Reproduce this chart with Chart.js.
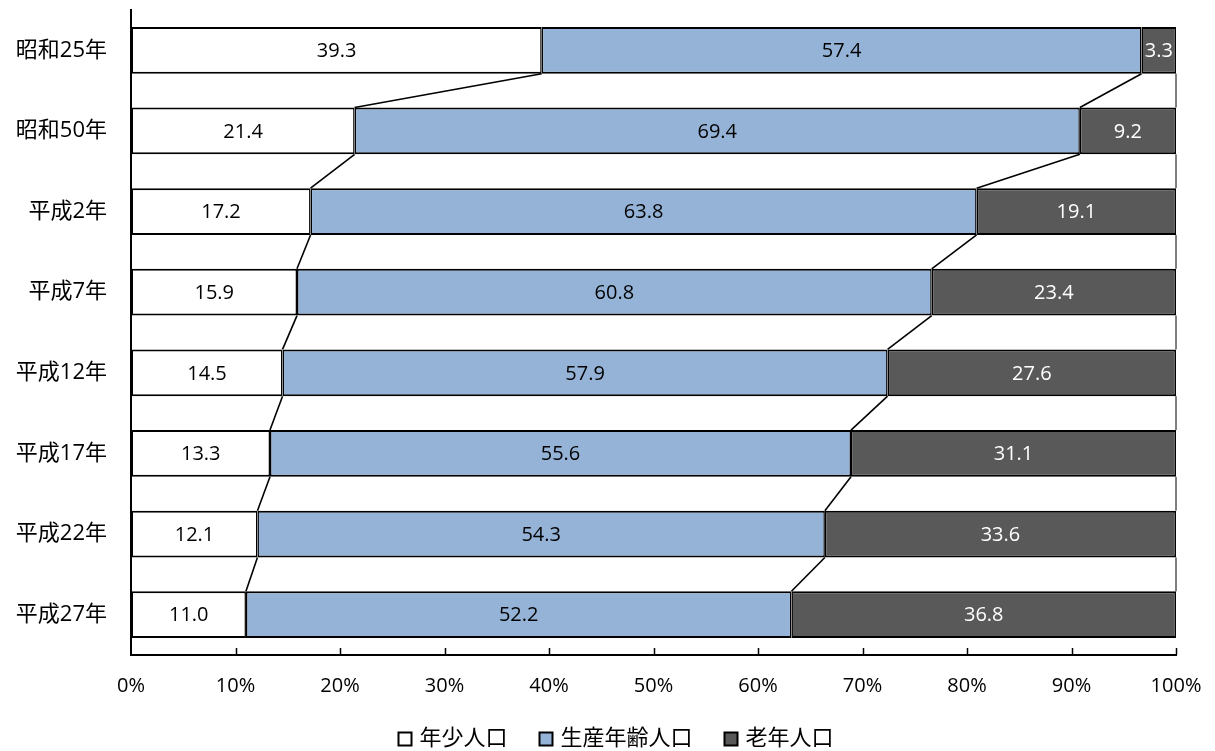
<!DOCTYPE html>
<html><head><meta charset="utf-8">
<script src="https://cdn.jsdelivr.net/npm/chart.js@4/dist/chart.umd.min.js"></script>
<style>html,body{margin:0;padding:0;background:#fff;}#wrap{width:1215px;height:751px;}</style>
</head><body><div id="wrap"><canvas id="c" width="1215" height="751"></canvas></div>
<script>
const categories = ['昭和25年','昭和50年','平成2年','平成7年','平成12年','平成17年','平成22年','平成27年'];
const seriesNames = ['年少人口','生産年齢人口','老年人口'];
const youth   = [39.3, 21.4, 17.2, 15.9, 14.5, 13.3, 12.1, 11.0];
const working = [57.4, 69.4, 63.8, 60.8, 57.9, 55.6, 54.3, 52.2];
const elderly = [3.3, 9.2, 19.1, 23.4, 27.6, 31.1, 33.6, 36.8];
const xTicks = [0,10,20,30,40,50,60,70,80,90,100];

const raw = [youth, working, elderly];
const totals = categories.map((_, j) => raw.reduce((s, a) => s + a[j], 0));
const pct = raw.map(a => a.map((v, j) => v / totals[j] * 100));

const fills = ['#FFFFFF', '#95B3D7', '#595959'];
const labelColors = ['#000000', '#000000', '#FFFFFF'];
const numFont = '"Open Sans", "Noto Sans CJK JP", sans-serif';
const cjkFont = '"Open Sans", "Noto Sans CJK JP", sans-serif';

const seriesLines = {
  id: 'seriesLines',
  afterDatasetsDraw(chart) {
    const ctx = chart.ctx, xs = chart.scales.x;
    const metas = [0,1,2].map(i => chart.getDatasetMeta(i));
    ctx.save();
    ctx.strokeStyle = '#000';
    for (let j = 0; j < categories.length - 1; j++) {
      let c1 = 0, c2 = 0;
      for (let k = 0; k < 3; k++) {
        c1 += pct[k][j]; c2 += pct[k][j+1];
        const e1 = metas[k].data[j], e2 = metas[k].data[j+1];
        ctx.lineWidth = k === 2 ? 1 : 1.6;
        ctx.beginPath();
        ctx.moveTo(xs.getPixelForValue(Math.min(c1,100)), e1.y + e1.height/2);
        ctx.lineTo(xs.getPixelForValue(Math.min(c2,100)), e2.y - e2.height/2);
        ctx.stroke();
      }
    }
    ctx.restore();
  },
  afterDraw(chart) {
    const ctx = chart.ctx, xs = chart.scales.x, area = chart.chartArea;
    ctx.save();
    ctx.strokeStyle = '#000'; ctx.lineWidth = 1.5;
    xTicks.forEach(v => {
      if (v === 0) return;
      const x = Math.round(xs.getPixelForValue(v)) + 0.5;
      ctx.beginPath(); ctx.moveTo(x, area.bottom); ctx.lineTo(x, area.bottom - 7); ctx.stroke();
    });
    ctx.font = '20px ' + numFont;
    ctx.textAlign = 'center'; ctx.textBaseline = 'middle';
    for (let k = 0; k < 3; k++) {
      const meta = chart.getDatasetMeta(k);
      ctx.fillStyle = labelColors[k];
      meta.data.forEach((el, j) => {
        ctx.fillText(raw[k][j].toFixed(1), (el.x + el.base) / 2, el.y + 1);
      });
    }
    ctx.font = '22px ' + cjkFont;
    ctx.textAlign = 'left';
    const box = 13, gapBox = 8, gapItem = 32;
    const widths = seriesNames.map(n => ctx.measureText(n).width);
    const total = widths.reduce((s, w) => s + w + box + gapBox, 0) + gapItem * (seriesNames.length - 1);
    let x = 616 - total / 2;
    const y = 739;
    seriesNames.forEach((n, k) => {
      ctx.fillStyle = fills[k];
      ctx.fillRect(x, y - box/2, box, box);
      ctx.lineWidth = 2; ctx.strokeStyle = '#000';
      ctx.strokeRect(x, y - box/2, box, box);
      ctx.fillStyle = '#000';
      ctx.fillText(n, x + box + gapBox, y);
      x += box + gapBox + widths[k] + gapItem;
    });
    ctx.restore();
  }
};

new Chart(document.getElementById('c'), {
  type: 'bar',
  data: {
    labels: categories,
    datasets: seriesNames.map((n, k) => ({
      label: n,
      data: pct[k],
      backgroundColor: fills[k],
      borderColor: '#000',
      borderWidth: {top: 2, bottom: 2, left: 1.5, right: 1.5},
      borderSkipped: false,
      categoryPercentage: 1.0,
      barPercentage: 0.58
    }))
  },
  options: {
    indexAxis: 'y',
    responsive: false,
    animation: false,
    layout: {padding: {top: 10, right: 39, left: 0, bottom: 56}},
    plugins: {legend: {display: false}, tooltip: {enabled: false}},
    scales: {
      x: {
        stacked: true, min: 0, max: 100,
        afterBuildTicks(s) { s.ticks = xTicks.map(v => ({value: v})); },
        afterFit(s) { s.height = 40; s.paddingLeft = 0; s.paddingRight = 0; },
        grid: {drawOnChartArea: false, drawTicks: false},
        border: {display: true, color: '#000', width: 2},
        ticks: {padding: 19, color: '#000', font: {family: numFont, size: 20}, callback: v => v + '%', maxRotation: 0, autoSkip: false}
      },
      y: {
        stacked: true,
        afterFit(s) { s.width = 131; s.paddingTop = 0; s.paddingBottom = 0; },
        grid: {drawOnChartArea: false, drawTicks: false},
        border: {display: true, color: '#000', width: 2},
        ticks: {padding: 24, color: '#000', font: {family: cjkFont, size: 22}}
      }
    }
  },
  plugins: [seriesLines]
});
</script>
</body></html>
